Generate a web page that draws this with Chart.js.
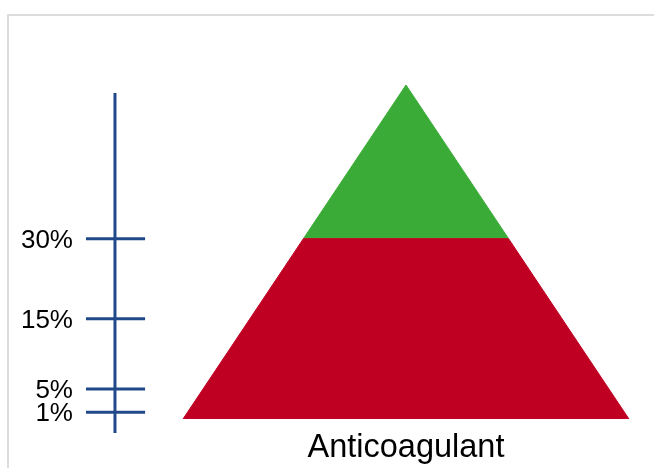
<!DOCTYPE html>
<html>
<head>
<meta charset="utf-8">
<script src="https://cdn.jsdelivr.net/npm/chart.js@4/dist/chart.umd.min.js"></script>
<style>
    body { margin: 0; background: #fff; }
    #wrap { position: relative; width: 654px; height: 468px; overflow: hidden; }
    #frame { position: absolute; left: 7px; top: 14px; width: 680px; height: 480px; border: 2px solid #dcdcdc; box-sizing: border-box; }
    #chart { position: absolute; left: 0; top: 0; }
</style>
</head>
<body>
<div id="wrap">
    <div id="frame"></div>
    <canvas id="chart" width="654" height="468"></canvas>
</div>
<script>
// Category under the pyramid
const categories = ["Anticoagulant"];

// Pyramid outline: x runs 0..100 across the base, y is height 0 (base) .. 100 (apex)
const redX = [0, 27, 73, 100];
const redY = [0, 54, 54, 0];
const greenX = [27, 50, 73];
const greenY = [54, 100, 54];

// Left scale: labels and where they sit on the height axis
const tickLabels = ["30%", "15%", "5%", "1%"];
const tickLevels = [54, 30, 9, 2];
const axisRange = [-4.2, 97.6];

const axisColor = "#21498a";
const labelFont = '"Liberation Sans", Arial, Helvetica, sans-serif';

function toPoints(xs, ys) {
    return xs.map((x, i) => ({ x: x, y: ys[i] }));
}

// Draws the left scale (line, cross ticks, labels) and the category name
const scalePlugin = {
    id: "pyramidScale",
    afterDatasetsDraw(chart) {
        const ctx = chart.ctx;
        const xs = chart.scales.x;
        const ys = chart.scales.y;
        const axisX = xs.getPixelForValue(-15.25);
        const tickL = xs.getPixelForValue(-21.75);
        const tickR = xs.getPixelForValue(-8.5);

        ctx.save();
        ctx.strokeStyle = axisColor;
        ctx.lineWidth = 3;
        ctx.beginPath();
        ctx.moveTo(axisX, ys.getPixelForValue(axisRange[0]));
        ctx.lineTo(axisX, ys.getPixelForValue(axisRange[1]));
        ctx.stroke();

        ctx.fillStyle = "#000";
        ctx.font = "26px " + labelFont;
        ctx.textAlign = "right";
        ctx.textBaseline = "middle";
        for (let i = 0; i < tickLevels.length; i++) {
            const py = ys.getPixelForValue(tickLevels[i]);
            ctx.beginPath();
            ctx.moveTo(tickL, py);
            ctx.lineTo(tickR, py);
            ctx.stroke();
            ctx.fillText(tickLabels[i], tickL - 13, py + 2);
        }

        ctx.font = "32.5px " + labelFont;
        ctx.textAlign = "center";
        ctx.textBaseline = "alphabetic";
        ctx.fillText(categories[0], xs.getPixelForValue(50), ys.getPixelForValue(0) + 38);
        ctx.restore();
    },
};

new Chart("chart", {
    type: "scatter",
    data: {
        datasets: [
            {
                data: toPoints(redX, redY),
                showLine: true,
                fill: "origin",
                backgroundColor: "#c00022",
                borderColor: "#c00022",
                borderWidth: 1,
                pointRadius: 0,
                tension: 0,
            },
            {
                data: toPoints(greenX, greenY),
                showLine: true,
                fill: { value: 54 },
                backgroundColor: "#3aab36",
                borderColor: "#3aab36",
                borderWidth: 1,
                pointRadius: 0,
                tension: 0,
            },
        ],
    },
    options: {
        responsive: false,
        animation: false,
        events: [],
        layout: { padding: 0 },
        scales: {
            x: { type: "linear", display: false, min: -41.03, max: 105.61 },
            y: { type: "linear", display: false, min: -14.67, max: 125.45 },
        },
        plugins: {
            legend: { display: false },
            tooltip: { enabled: false },
        },
    },
    plugins: [scalePlugin],
});
</script>
</body>
</html>
